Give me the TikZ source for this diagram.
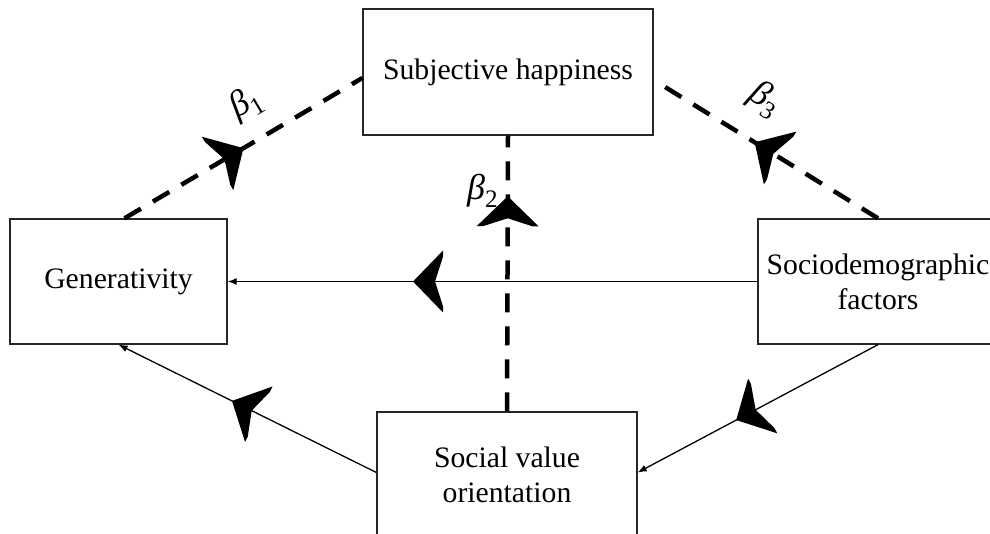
\documentclass[tikz,border=0pt]{standalone}
\usepackage{fontspec}
\setmainfont{Liberation Serif}
\usetikzlibrary{arrows.meta,decorations.markings}

\newcommand{\coef}[1]{{\fontsize{36bp}{36bp}\selectfont\textit{β}\textsubscript{#1}}}

\tikzset{
  box/.style={draw=black!85, line width=1.3bp, align=center, inner sep=0pt},
  link/.style={line width=1.3bp},
  dlink/.style={line width=4.5bp, dash pattern=on 19bp off 14bp},
  bigtip/.style={postaction={decorate}, decoration={markings,
      mark=at position #1 with {\fill[solid] (0,0) -- (-30,31) -- (-30,25) -- (-22,0)
        -- (-30,-25) -- (-30,-31) -- cycle;}}}
}

\begin{document}
\begin{tikzpicture}[x=1bp, y=1bp, >={Latex[length=9bp,width=7bp]},
    font=\fontsize{29.7bp}{35bp}\selectfont]
  \clip (0,0) rectangle (990,534);

  \node[box, minimum width=290bp, minimum height=126bp] (happy) at (508,462) {Subjective happiness};
  \node[box, minimum width=217bp, minimum height=125bp] (gen) at (118.5,252.5) {Generativity};
  \node[box, minimum width=240bp, minimum height=125bp] (socio) at (878,252.5) {Sociodemographic\\factors};
  \node[box, minimum width=260bp, minimum height=125bp] (svo) at (507,59.5) {Social value\\orientation};

  % paths to happiness
  \draw[dlink, bigtip=0.5] ([xshift=6bp]gen.north) -- ([yshift=-6bp]happy.west)
    node[pos=0.59, sloped, yshift=37bp] {\coef{1}};
  \draw[dlink, bigtip=0.78] (svo.north) -- (happy.south)
    node[pos=0.8, left=4bp] {\coef{2}};
  \draw[dlink, bigtip=0.55] (socio.north) -- ([yshift=-8bp]happy.east)
    node[pos=0.6, sloped, yshift=42bp] {\coef{3}};

  % covariates
  \draw[link, ->, bigtip=0.65] (socio.west) -- (gen.east);
  \draw[link, ->, bigtip=0.56] ([yshift=2bp]svo.west) -- (gen.south);
  \draw[link, ->, bigtip=0.59] (socio.south) -- ([yshift=2bp]svo.east);
\end{tikzpicture}
\end{document}
